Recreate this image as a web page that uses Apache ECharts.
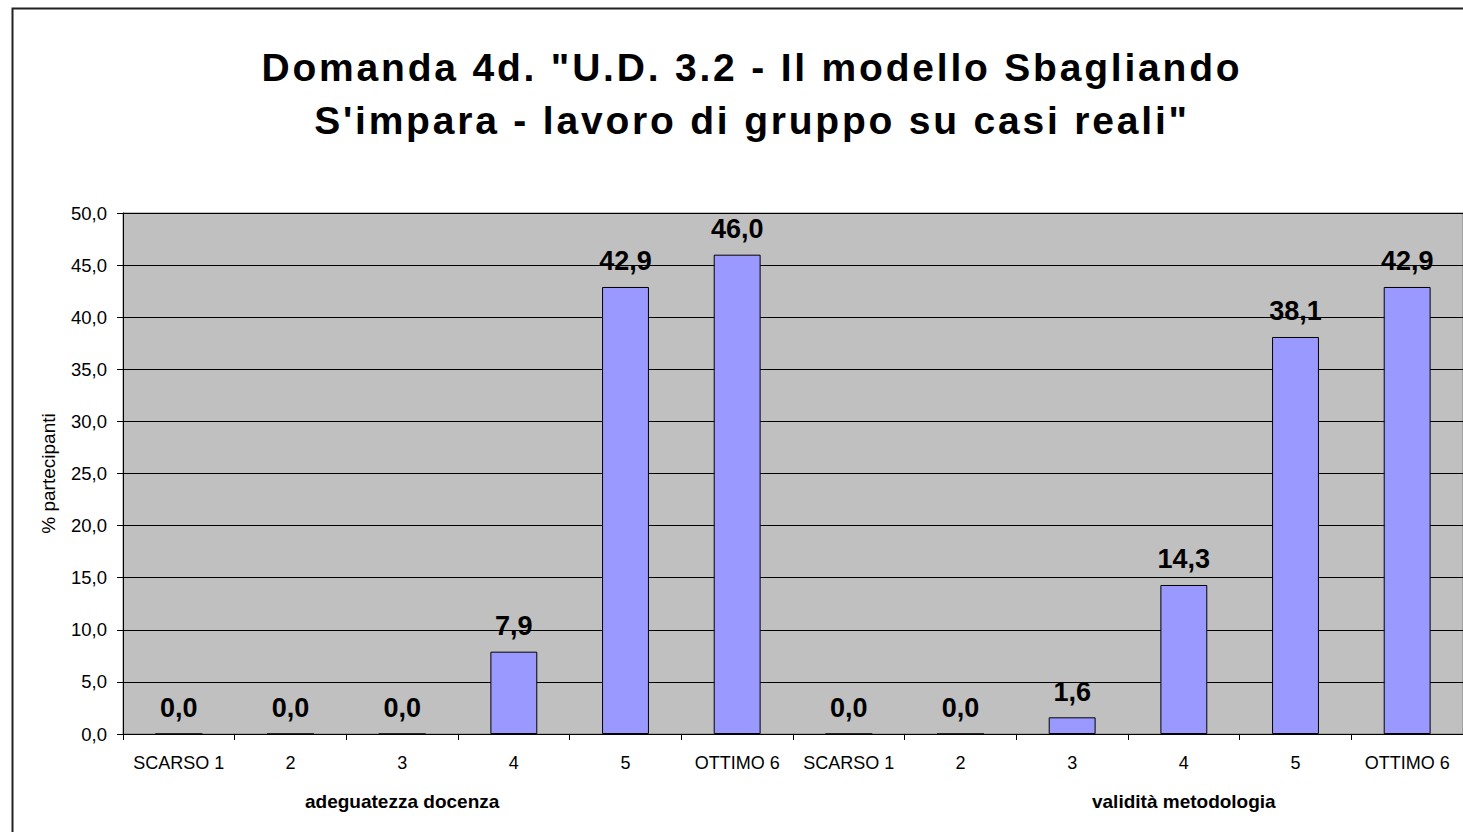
<!DOCTYPE html>
<html>
<head>
<meta charset="utf-8">
<title>Domanda 4d</title>
<script src="https://cdn.jsdelivr.net/npm/echarts@6/dist/echarts.min.js"></script>
<style>
  html, body { margin: 0; padding: 0; background: #fff; }
  #chart { width: 1463px; height: 832px; }
  /* titolo leggermente spaziato come nell'originale */
  #chart svg text[style*="39px"] { letter-spacing: 2.8px; }
</style>
</head>
<body>
<div id="chart"></div>
<script>
// etichette delle categorie (due gruppi da 6)
var catLabels = ['SCARSO 1', '2', '3', '4', '5', 'OTTIMO 6',
                 'SCARSO 1', '2', '3', '4', '5', 'OTTIMO 6']
// etichette dei gruppi, sotto la categoria 3 di ciascun gruppo
var groupLabels = ['', '', 'adeguatezza docenza', '', '', '',
                   '', '', '', 'validità metodologia', '', '']
// % partecipanti
var adeguatezza = [0.0, 0.0, 0.0, 7.9, 42.9, 46.0]
var validita = [0.0, 0.0, 1.6, 14.3, 38.1, 42.9]
var yTicks = { min: 0, max: 50, interval: 5 }

var values = adeguatezza.concat(validita)
var catIdx = catLabels.map(function (c, i) { return String(i) })

function fmt(v) {
  return Number(v).toFixed(1).replace('.', ',')
}

var font = '"Liberation Sans", Arial, sans-serif'
var chart = echarts.init(document.getElementById('chart'), null, { renderer: 'svg' })

var option = {
  backgroundColor: '#ffffff',
  animation: false,
  textStyle: { fontFamily: font, color: '#000' },
  title: {
    text: 'Domanda 4d. "U.D. 3.2 - Il modello Sbagliando\nS\'impara - lavoro di gruppo su casi reali"',
    left: 747,
    top: 36,
    textAlign: 'center',
    textStyle: {
      fontFamily: font,
      fontSize: 39,
      fontWeight: 'bold',
      color: '#000',
      lineHeight: 53
    }
  },
  graphic: [
    {
      type: 'rect',
      left: 10,
      top: 6,
      shape: { width: 1470, height: 840 },
      style: { fill: 'none', stroke: '#222', lineWidth: 2 },
      silent: true,
      z: -1
    }
  ],
  grid: {
    left: 123,
    top: 213,
    right: -1,
    bottom: 98,
    show: true,
    backgroundColor: '#C0C0C0',
    borderColor: '#808080',
    borderWidth: 1
  },
  xAxis: [
    {
      type: 'category',
      data: catIdx,
      position: 'bottom',
      axisLine: { lineStyle: { color: '#000', width: 1 } },
      axisTick: { show: true, length: 6, lineStyle: { color: '#000' } },
      axisLabel: {
        interval: 0,
        margin: 20,
        fontSize: 18,
        color: '#000',
        fontFamily: font,
        formatter: function (v, i) { return catLabels[i] }
      },
      splitLine: { show: false }
    },
    {
      type: 'category',
      data: catIdx,
      position: 'bottom',
      offset: 38,
      axisLine: { show: false },
      axisTick: { show: false },
      axisLabel: {
        interval: 0,
        margin: 20,
        fontSize: 19,
        fontWeight: 'bold',
        color: '#000',
        fontFamily: font,
        hideOverlap: false,
        formatter: function (v, i) { return groupLabels[i] }
      },
      splitLine: { show: false }
    }
  ],
  yAxis: {
    type: 'value',
    min: yTicks.min,
    max: yTicks.max,
    interval: yTicks.interval,
    name: '% partecipanti',
    nameLocation: 'middle',
    nameGap: 65,
    nameTextStyle: { fontSize: 19, color: '#000', fontFamily: font },
    axisLine: { show: true, lineStyle: { color: '#000', width: 1 } },
    axisTick: { show: true, length: 6, lineStyle: { color: '#000' } },
    axisLabel: {
      fontSize: 18.5,
      color: '#000',
      margin: 16,
      fontFamily: font,
      formatter: function (v) { return fmt(v) }
    },
    splitLine: { show: true, lineStyle: { color: '#000', width: 1 } }
  },
  series: [
    {
      type: 'bar',
      xAxisIndex: 0,
      data: values,
      barWidth: '42%',
      itemStyle: { color: '#9999FF', borderColor: '#000', borderWidth: 1 },
      label: {
        show: true,
        position: 'top',
        distance: 12,
        fontSize: 27,
        fontWeight: 'bold',
        color: '#000',
        fontFamily: font,
        formatter: function (p) { return fmt(p.value) }
      }
    }
  ]
}

chart.setOption(option)
</script>
</body>
</html>
